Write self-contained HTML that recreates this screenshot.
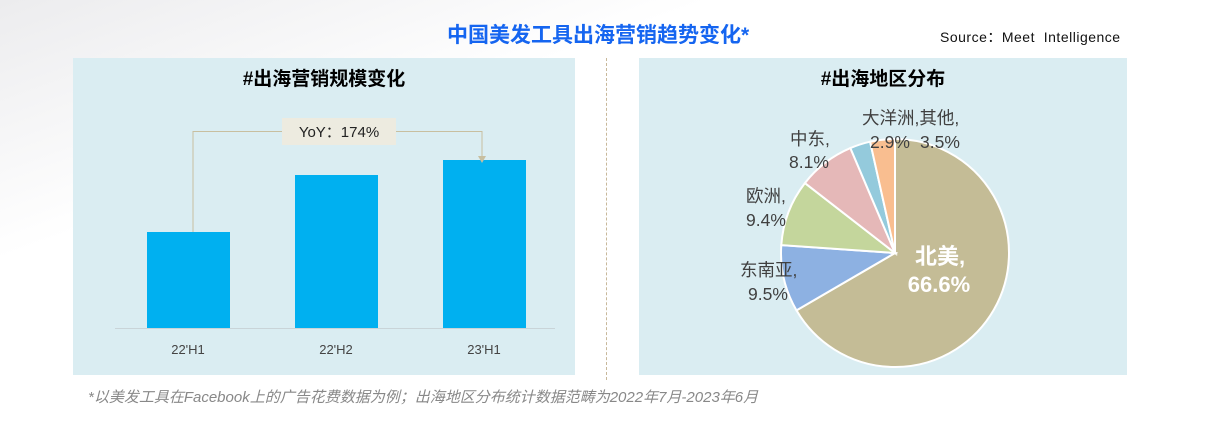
<!DOCTYPE html><html><head><meta charset="utf-8"><style>
body{margin:0;width:1221px;height:423px;background:linear-gradient(160deg,#ececee 0%,#fff 30%,#fff 100%);font-family:"Liberation Sans","Noto Sans CJK SC",sans-serif;position:relative;overflow:hidden}
.a{position:absolute}
</style></head><body>
<div class="a" style="left:447px;top:19px;font-size:21px;font-weight:bold;color:#1565f0;white-space:nowrap">中国美发工具出海营销趋势变化*</div>
<div class="a" style="left:940px;top:27px;font-size:14px;color:#111;white-space:nowrap;letter-spacing:0.5px">Source：Meet&nbsp; Intelligence</div>
<div class="a" style="left:73px;top:58px;width:502px;height:317px;background:#daedf2"></div>
<div class="a" style="left:639px;top:58px;width:488px;height:317px;background:#daedf2"></div>
<div class="a" style="left:606px;top:58px;height:322px;border-left:1px dashed #c8b89a"></div>
<div class="a" style="left:73px;top:64px;width:502px;text-align:center;font-size:19px;font-weight:bold">#出海营销规模变化</div>
<div class="a" style="left:639px;top:64px;width:488px;text-align:center;font-size:19px;font-weight:bold">#出海地区分布</div>
<svg class="a" style="left:0;top:0" width="1221" height="423">
<line x1="115" y1="328.5" x2="555" y2="328.5" stroke="#c9d4d8"/>
<rect x="147" y="232" width="83" height="96" fill="#00b0f0"/>
<rect x="295" y="175" width="83" height="153" fill="#00b0f0"/>
<rect x="443" y="160" width="83" height="168" fill="#00b0f0"/>
<polyline points="193,232 193,131.5 482,131.5 482,158" fill="none" stroke="#c8bfa0"/>
<polygon points="478,156 486,156 482,163" fill="#c8bfa0"/>
<rect x="282" y="118" width="114" height="27" fill="#edebe0"/>
<text x="339" y="137" text-anchor="middle" font-size="15" fill="#222">YoY：174%</text>
<g font-size="13" fill="#444" text-anchor="middle"><text x="188" y="354">22'H1</text><text x="336" y="354">22'H2</text><text x="484" y="354">23'H1</text></g>
<g stroke="#fff" stroke-width="2">
<path d="M895,253 L895,139 A114,114 0 1 1 796.5,310.4 Z" fill="#c4bc96"/>
<path d="M895,253 L796.5,310.4 A114,114 0 0 1 781.3,245.1 Z" fill="#8db1e2"/>
<path d="M895,253 L781.3,245.1 A114,114 0 0 1 804.9,183.1 Z" fill="#c4d69c"/>
<path d="M895,253 L804.9,183.1 A114,114 0 0 1 850.4,148.1 Z" fill="#e5b8b8"/>
<path d="M895,253 L850.4,148.1 A114,114 0 0 1 870.1,141.7 Z" fill="#94cadc"/>
<path d="M895,253 L870.1,141.7 A114,114 0 0 1 895,139 Z" fill="#f9be90"/>
</g>
<g font-size="17.5" fill="#404040">
<text x="790" y="145">中东,</text><text x="789" y="168">8.1%</text>
<text x="746" y="202">欧洲,</text><text x="746" y="226">9.4%</text>
<text x="740" y="276">东南亚,</text><text x="748" y="300">9.5%</text>
<text x="862" y="124">大洋洲,其他,</text><text x="870" y="148">2.9%</text><text x="920" y="148">3.5%</text>
</g>
<g font-size="22" font-weight="bold" fill="#fff" text-anchor="middle"><text x="940" y="264">北美,</text><text x="939" y="292">66.6%</text></g>
</svg>
<div class="a" style="left:88px;top:386px;font-size:15px;font-style:italic;color:#888;white-space:nowrap">*以美发工具在Facebook上的广告花费数据为例；出海地区分布统计数据范畴为2022年7月-2023年6月</div>
</body></html>
